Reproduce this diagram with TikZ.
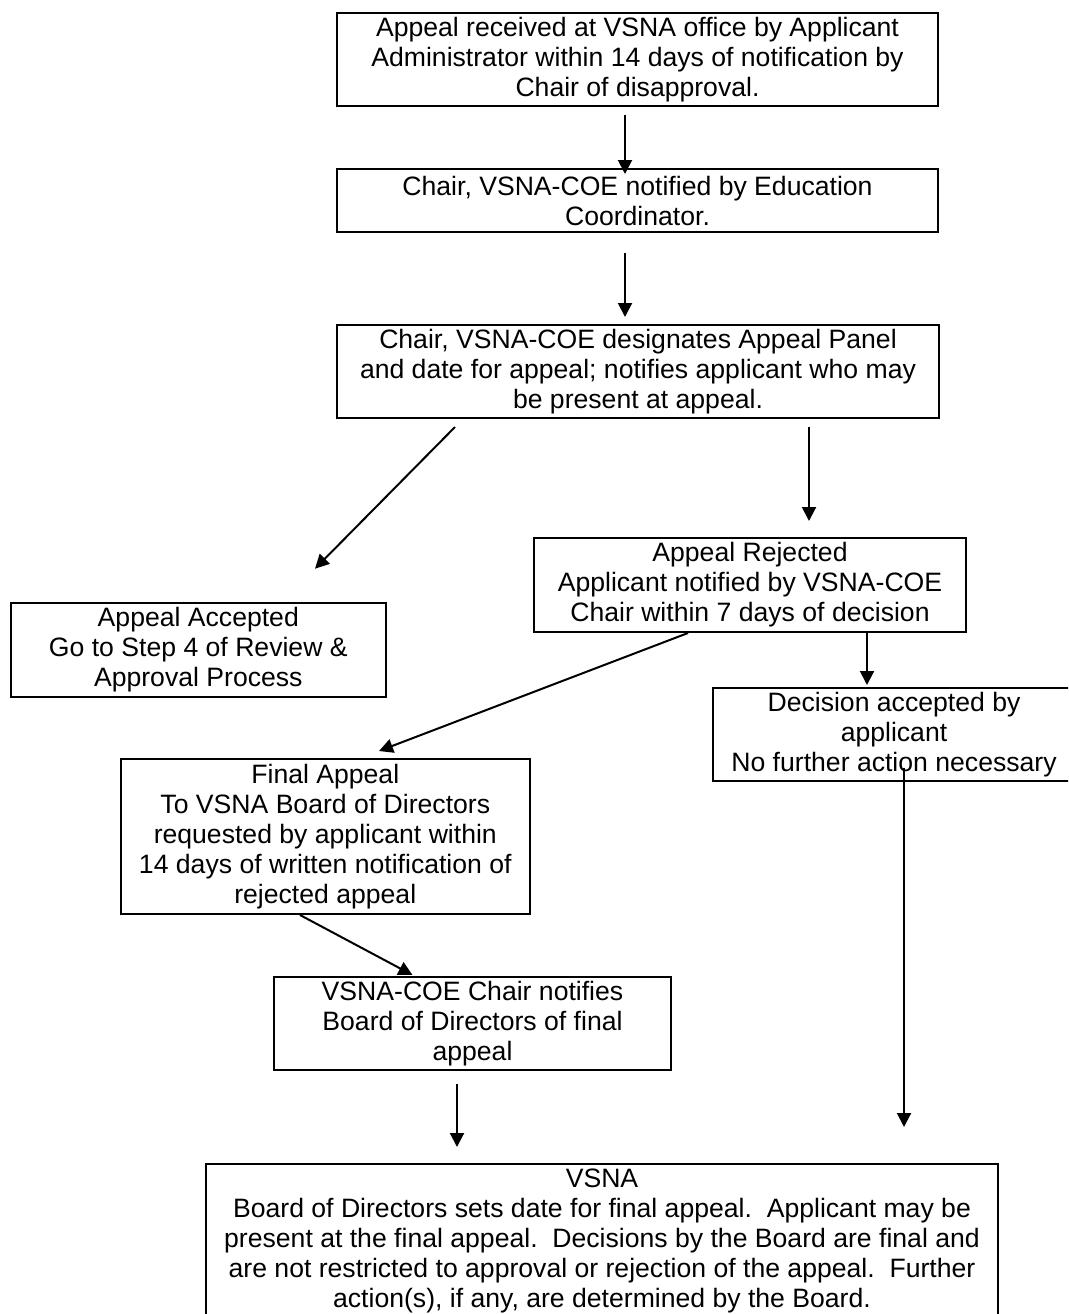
\documentclass[tikz,border=0pt]{standalone}
\usepackage{fontspec}
\setmainfont{Liberation Sans}
\usetikzlibrary{arrows.meta,calc}
\tikzset{
  box/.style={draw, line width=2pt, rectangle, inner sep=0pt, align=center,
    font=\fontsize{26.6}{30}\selectfont},
  arr/.style={line width=2pt, -{Triangle[length=14pt,width=14pt]}}
}
\begin{document}
\begin{tikzpicture}[x=1pt,y=-1pt]
\clip (0,0) rectangle (1068,1314);
\fill[white] (0,0) rectangle (1068,1314);

\node[box, minimum width=601pt, minimum height=93.3pt] (b1) at (637.5,59.3)
  {Appeal received at VSNA office by Applicant\\Administrator within 14 days of notification by\\Chair of disapproval.};
\node[box, minimum width=601pt, minimum height=63pt] (b2) at (637.5,200.5)
  {Chair, VSNA-COE notified by Education\\Coordinator.};
\node[box, minimum width=602pt, minimum height=93pt] (b3) at (638,371.5)
  {Chair, VSNA-COE designates Appeal Panel\\and date for appeal; notifies applicant who may\\be present at appeal.};
\node[box, minimum width=375.5pt, minimum height=94pt] (aa) at (198.3,649.7)
  {Appeal Accepted\\Go to Step 4 of Review \&\\Approval Process};
\node[box, minimum width=432pt, minimum height=94pt] (ar) at (750,585)
  {Appeal Rejected\\Applicant notified by VSNA-COE\\Chair within 7 days of decision};
\node[box, minimum width=362pt, minimum height=93pt] (da) at (894,734.5)
  {Decision accepted by\\applicant\\No further action necessary};
\node[box, minimum width=409.5pt, minimum height=155pt] (fa) at (325.3,836.5)
  {Final Appeal\\To VSNA Board of Directors\\requested by applicant within\\14 days of written notification of\\rejected appeal};
\node[box, minimum width=397pt, minimum height=93pt] (vc) at (472.5,1023.5)
  {VSNA-COE Chair notifies\\Board of Directors of final\\appeal};
\node[box, minimum width=792pt, minimum height=154pt] (vb) at (602,1241)
  {VSNA\\Board of Directors sets date for final appeal.\ \ Applicant may be\\present at the final appeal.\ \ Decisions by the Board are final and\\are not restricted to approval or rejection of the appeal.\ \ Further\\action(s), if any, are determined by the Board.};

\draw[arr] ($(b1.south)+(-12.5,8)$) -- ($(b2.north)+(-12.5,6)$);
\draw[arr] ($(b2.south)+(-12.5,20)$) -- ($(b3.north)+(-13,-7)$);
\draw[arr] ($(b3.south)+(-183,8)$) -- ($(aa.north)+(116.7,-33)$);
\draw[arr] ($(b3.south)+(171,8)$) -- ($(ar.north)+(59,-16)$);
\draw[arr] ($(ar.south)+(-62,0)$) -- ($(fa.north)+(53.7,-7)$);
\draw[arr] ($(ar.south)+(117,0)$) -- ($(da.north)+(-27,-2)$);
\draw[arr] ($(da.south)+(10,-14)$) -- ($(vb.north)+(302,-36)$);
\draw[arr] ($(fa.south)+(-25.3,0)$) -- ($(vc.north)+(-60,-1)$);
\draw[arr] ($(vc.south)+(-15.5,13)$) -- ($(vb.north)+(-145,-16)$);
\end{tikzpicture}
\end{document}
